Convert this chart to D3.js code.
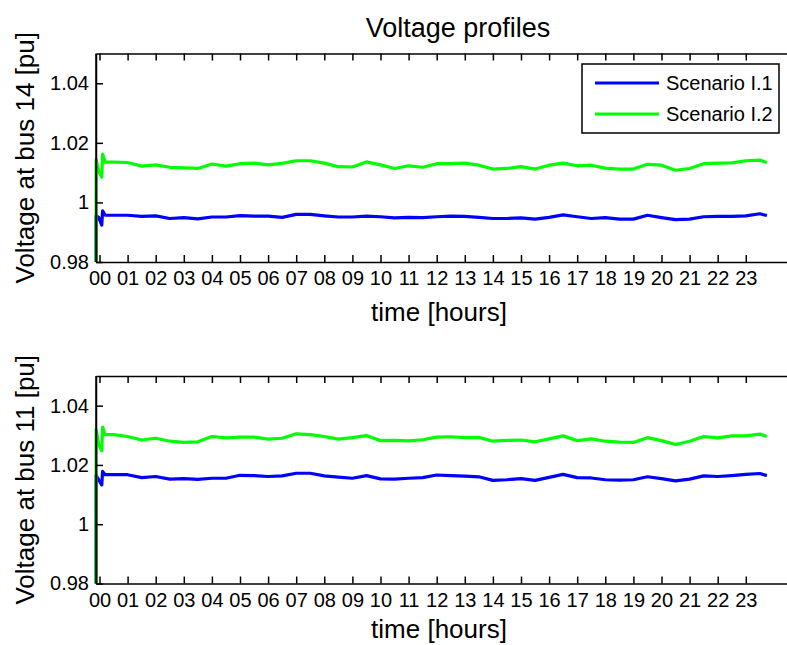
<!DOCTYPE html>
<html lang="en">
<head>
  <meta charset="UTF-8">
  <title>Voltage profiles</title>
  <style>
    body {
      margin: 0;
      background: #ffffff;
      font-family: "Liberation Sans", Arial, sans-serif;
    }
    svg text { fill: #000; }
    .axis path, .axis line { stroke: #000; stroke-width: 1.5; }
    .axis text { font-size: 20px; font-family: "Liberation Sans", Arial, sans-serif; }
  </style>
</head>
<body>
  <div id="chart"></div>

  <script src="https://d3js.org/d3.v7.min.js"></script>
  <script>
    // time in hours (first points = start-up transient)
    const hours = [
      -0.12, -0.12, -0.03, 0.08, 0.11, 0.2,
      0.5, 1.0, 1.5, 2.0, 2.5, 3.0, 3.5, 4.0,
      4.5, 5.0, 5.5, 6.0, 6.5, 7.0, 7.5, 8.0,
      8.5, 9.0, 9.5, 10.0, 10.5, 11.0, 11.5, 12.0,
      12.5, 13.0, 13.5, 14.0, 14.5, 15.0, 15.5, 16.0,
      16.5, 17.0, 17.5, 18.0, 18.5, 19.0, 19.5, 20.0,
      20.5, 21.0, 21.5, 22.0, 22.5, 23.0, 23.5, 23.75
    ];

    // bus 14
    const bus14ScenarioI1 = [
      0.98, 0.9955, 0.9950, 0.9924, 0.9972, 0.9957,
      0.9957, 0.9957, 0.9953, 0.9955, 0.9946, 0.9949, 0.9945, 0.9951,
      0.9951, 0.9956, 0.9954, 0.9954, 0.9950, 0.9960, 0.9960, 0.9955,
      0.9951, 0.9951, 0.9954, 0.9952, 0.9948, 0.9950, 0.9949, 0.9952,
      0.9954, 0.9953, 0.9950, 0.9946, 0.9946, 0.9948, 0.9944, 0.9950,
      0.9958, 0.9952, 0.9946, 0.9949, 0.9944, 0.9944, 0.9957, 0.9949,
      0.9942, 0.9944, 0.9952, 0.9953, 0.9953, 0.9955, 0.9962, 0.9956
    ];
    const bus14ScenarioI2 = [
      0.98, 1.0145, 1.0105, 1.0085, 1.0162, 1.0135,
      1.0135, 1.0134, 1.0122, 1.0126, 1.0118, 1.0116, 1.0114, 1.0129,
      1.0122, 1.0130, 1.0132, 1.0126, 1.0131, 1.0140, 1.0140, 1.0132,
      1.0120, 1.0119, 1.0136, 1.0126, 1.0114, 1.0123, 1.0118, 1.0130,
      1.0130, 1.0132, 1.0125, 1.0112, 1.0114, 1.0120, 1.0112, 1.0125,
      1.0132, 1.0123, 1.0125, 1.0115, 1.0112, 1.0112, 1.0128, 1.0125,
      1.0108, 1.0114, 1.0130, 1.0132, 1.0133, 1.0140, 1.0142, 1.0134
    ];

    // bus 11
    const bus11ScenarioI1 = [
      0.98, 1.0165, 1.0150, 1.0133, 1.0178, 1.0167,
      1.0167, 1.0167, 1.0157, 1.0161, 1.0152, 1.0154, 1.0151, 1.0155,
      1.0155, 1.0165, 1.0164, 1.0161, 1.0163, 1.0172, 1.0172, 1.0163,
      1.0159, 1.0155, 1.0164, 1.0153, 1.0152, 1.0155, 1.0157, 1.0166,
      1.0164, 1.0162, 1.0160, 1.0148, 1.0150, 1.0154, 1.0148, 1.0158,
      1.0168, 1.0157, 1.0156, 1.0150, 1.0149, 1.0150, 1.0160, 1.0154,
      1.0146, 1.0152, 1.0163, 1.0161, 1.0164, 1.0168, 1.0171, 1.0164
    ];
    const bus11ScenarioI2 = [
      0.98, 1.0319, 1.0270, 1.0248, 1.0328, 1.0302,
      1.0302, 1.0296, 1.0284, 1.0290, 1.0280, 1.0276, 1.0278, 1.0296,
      1.0291, 1.0294, 1.0294, 1.0287, 1.0290, 1.0305, 1.0302, 1.0296,
      1.0287, 1.0292, 1.0299, 1.0282, 1.0283, 1.0281, 1.0285, 1.0294,
      1.0295, 1.0292, 1.0293, 1.0280, 1.0283, 1.0284, 1.0278, 1.0288,
      1.0298, 1.0282, 1.0288, 1.0280, 1.0277, 1.0276, 1.0292, 1.0282,
      1.0269, 1.0280, 1.0296, 1.0291, 1.0298, 1.0298, 1.0304, 1.0296
    ];

    const hourTicks = d3.range(0, 24);
    const hourLabels = ["00","01","02","03","04","05","06","07","08","09","10","11",
                        "12","13","14","15","16","17","18","19","20","21","22","23"];
    const voltTicks = [0.98, 1.0, 1.02, 1.04];
    const voltLabels = ["0.98", "1", "1.02", "1.04"];
    const seriesNames = ["Scenario I.1", "Scenario I.2"];
    const seriesColors = ["#0000ff", "#00ff00"];

    const width = 787, height = 645;
    const left = 96, right = 818;

    const svg = d3.select("#chart").append("svg")
      .attr("width", width).attr("height", height);

    const x = d3.scaleLinear().domain([-0.1246, 25.57]).range([left, right]);

    const panels = [
      { top: 53.5, bottom: 262, labelY: 321, label: "Voltage at bus 14 [pu]", series: [bus14ScenarioI1, bus14ScenarioI2] },
      { top: 376, bottom: 583.5, labelY: 638, label: "Voltage at bus 11 [pu]", series: [bus11ScenarioI1, bus11ScenarioI2] }
    ];

    panels.forEach((p, pi) => {
      const y = d3.scaleLinear().domain([0.98, 1.05]).range([p.bottom, p.top]);
      const g = svg.append("g");

      // data lines
      const line = d3.line().x((d, i) => x(hours[i])).y(d => y(d));
      p.series.forEach((s, si) => {
        g.append("path")
          .datum(s)
          .attr("d", line)
          .attr("fill", "none")
          .attr("stroke", seriesColors[si])
          .attr("stroke-width", 3.2)
          .attr("stroke-linejoin", "round");
      });

      // bottom axis
      g.append("g").attr("class", "axis")
        .attr("transform", `translate(0,${p.bottom})`)
        .call(d3.axisBottom(x).tickValues(hourTicks).tickSize(-7).tickSizeOuter(0)
          .tickPadding(9).tickFormat((d, i) => hourLabels[i]));
      // top axis (ticks only)
      g.append("g").attr("class", "axis")
        .attr("transform", `translate(0,${p.top})`)
        .call(d3.axisTop(x).tickValues(hourTicks).tickSize(-7).tickSizeOuter(0).tickFormat(""));
      // left axis
      g.append("g").attr("class", "axis")
        .attr("transform", `translate(${left},0)`)
        .call(d3.axisLeft(y).tickValues(voltTicks).tickSize(-7).tickSizeOuter(0)
          .tickPadding(7).tickFormat((d, i) => voltLabels[i]));
      g.append("line")
        .attr("x1", left).attr("x2", left).attr("y1", p.top).attr("y2", p.bottom)
        .attr("stroke", "#000").attr("stroke-width", 1.5);

      // axis labels
      g.append("text")
        .attr("x", 439).attr("y", p.labelY)
        .attr("text-anchor", "middle")
        .style("font-size", "26px")
        .text("time [hours]");
      g.append("text")
        .attr("transform", `translate(34,${(p.top + p.bottom) / 2}) rotate(-90)`)
        .attr("text-anchor", "middle")
        .style("font-size", "26px")
        .text(p.label);

      if (pi === 0) {
        // legend
        const lg = g.append("g").attr("transform", "translate(582,64)");
        lg.append("rect").attr("width", 197).attr("height", 69)
          .attr("fill", "#fff").attr("stroke", "#000").attr("stroke-width", 1.5);
        seriesNames.forEach((name, i) => {
          const ly = 19 + i * 31;
          lg.append("line").attr("x1", 13).attr("x2", 77).attr("y1", ly).attr("y2", ly)
            .attr("stroke", seriesColors[i]).attr("stroke-width", 3);
          lg.append("text").attr("x", 84).attr("y", ly + 7)
            .style("font-size", "20px").text(name);
        });
      }
    });

    svg.append("text")
      .attr("x", 458).attr("y", 37)
      .attr("text-anchor", "middle")
      .style("font-size", "27px")
      .text("Voltage profiles");
  </script>
</body>
</html>
